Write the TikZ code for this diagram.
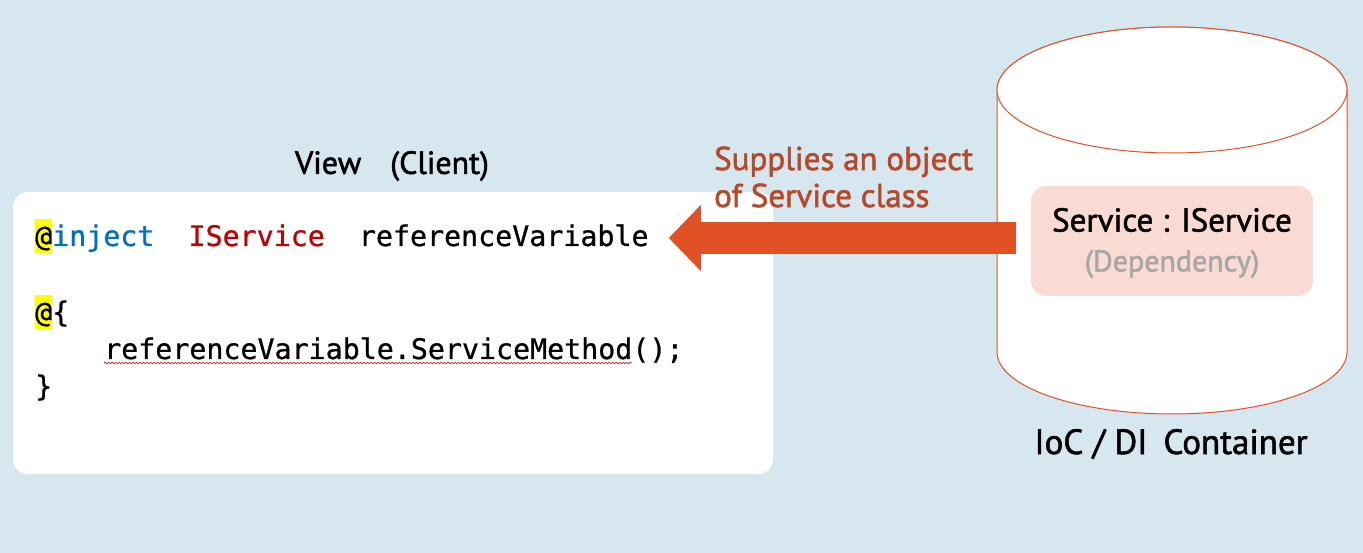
\documentclass[tikz,border=0pt]{standalone}
\usepackage{fontspec}
\setmainfont{PT Sans}
\newfontfamily\medfont{PT Sans}[FakeBold=1.6]
\newfontfamily\codefont{DejaVu Sans Mono}[FakeBold=0.8]
\usetikzlibrary{arrows.meta,decorations.pathmorphing}
\definecolor{bgc}{RGB}{215,231,240}
\definecolor{arrc}{RGB}{224,82,38}
\definecolor{lblc}{RGB}{183,72,40}
\definecolor{depfill}{RGB}{249,219,211}
\definecolor{depgray}{RGB}{166,166,166}
\definecolor{injblue}{RGB}{0,112,192}
\definecolor{svcred}{RGB}{192,0,0}
\definecolor{hlyellow}{RGB}{255,255,0}
\newcommand\hlat[1]{{\setlength\fboxsep{0pt}\colorbox{hlyellow}{\rule[-7pt]{0pt}{34pt}#1}}}
\begin{document}
\begin{tikzpicture}[x=1pt,y=1pt,
  codeline/.style={anchor=base west, inner sep=0pt, font=\codefont\fontsize{28.3}{34}\selectfont},
  title/.style={inner sep=0pt, font=\medfont\fontsize{32}{38}\selectfont},
  cyl/.style={draw=arrc, fill=white, line width=1pt},
]
\useasboundingbox (0,0) rectangle (1363,-553);
\fill[bgc] (0,0) rectangle (1363,-553);
% client box
\node[fill=white, rounded corners=15pt, minimum width=760pt, minimum height=282pt, inner sep=0pt] (viewbox) at (393,-333) {};
\node[title] (viewlbl) at (392,-166) {View\hspace{29pt}(Client)};
% code
\node[codeline] (l1) at (35,-246) {\hlat{@}\textcolor{injblue}{inject}\ \ \textcolor{svcred}{IService}\ \ referenceVariable\rule[-7pt]{0pt}{34pt}};
\node[codeline] (l2) at (35,-322) {\hlat{@}\{};
\node[codeline] (l3) at (104,-359) {referenceVariable.ServiceMethod();};
\node[codeline] (l4) at (35,-396) {\}};
\draw[red!85!black, line width=0.6pt, decorate, decoration={snake, amplitude=0.9pt, segment length=3.5pt}]
  ([yshift=-4pt]l3.base west) -- ([xshift=528pt,yshift=-4pt]l3.base west);
% container
\filldraw[cyl] (997,-90) -- (997,-352) arc[start angle=180, end angle=360, x radius=175, y radius=62] -- (1347,-90) arc[start angle=0, end angle=180, x radius=175, y radius=63] -- cycle;
\draw[cyl] (1172,-90) ellipse [x radius=175, y radius=63];
\node[fill=depfill, rounded corners=15pt, minimum width=282pt, minimum height=110pt, inner sep=0pt] (depbox) at (1172,-241) {};
\node[title, font=\medfont\fontsize{33}{38}\selectfont] (svc) at (1172,-220) {Service : IService};
\node[title, text=depgray, font=\medfont\fontsize{30}{36}\selectfont] (dep) at (1172,-264) {(Dependency)};
\node[title, font=\medfont\fontsize{35}{40}\selectfont] (ioc) at (1171,-444) {IoC / DI\hspace{16pt}Container};
% arrow
\coordinate (src) at (1016,-238);
\coordinate (dst) at ([xshift=20pt]l1.east);
\draw[arrc, line width=32pt, -{Triangle[length=32pt,width=64pt]}] (src) -- (dst |- src);
\node[title, text=lblc, font=\medfont\fontsize{33}{37}\selectfont, anchor=west, align=left] (supl) at (714,-177) {Supplies an object\\of Service class};
\end{tikzpicture}
\end{document}
